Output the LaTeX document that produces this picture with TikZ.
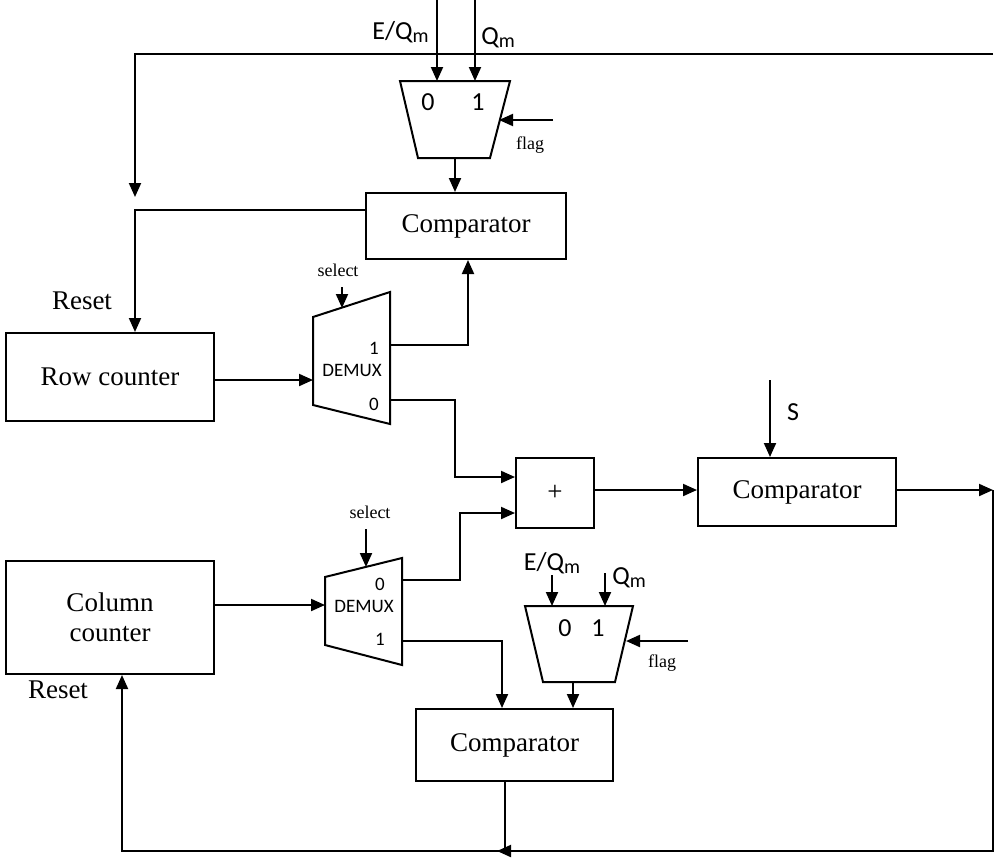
\documentclass[tikz,border=0pt]{standalone}
\usepackage{fontspec}
\setmainfont{Liberation Serif}
\newfontfamily\carlitofont{Carlito}
\usetikzlibrary{arrows.meta}
\begin{document}
\begin{tikzpicture}[x=1pt,y=-1pt,line width=2pt,
  box/.style={draw,minimum width=#1,inner sep=0pt,anchor=north west},
  arr/.style={-{Triangle[length=14pt,width=12pt]}},
  ser/.style={font=\fontsize{27}{30}\selectfont},
  sm/.style={font=\fontsize{18}{20}\selectfont},
  sa/.style={font=\carlitofont\fontsize{26}{28}\selectfont},
  dm/.style={font=\carlitofont\fontsize{19}{20}\selectfont}]
\useasboundingbox (0,0) rectangle (996,863);
% boxes
\node[box=200pt,minimum height=66pt,ser] (c1) at (365,192) {Comparator};
\node[box=208pt,minimum height=88pt,ser] (rc) at (5,332) {Row counter};
\node[box=78pt,minimum height=70pt,ser] (plus) at (515,457) {+};
\node[box=198pt,minimum height=68pt,ser] (c2) at (697,457) {Comparator};
\node[box=208pt,minimum height=113pt,ser,align=center] (cc) at (5,560) {Column\\counter};
\node[box=197pt,minimum height=72pt,ser] (c3) at (415,708) {Comparator};
% top mux
\draw (400,81) -- (510,81) -- (490,158) -- (418,158) -- cycle;
\node[sa] (m1z) at (428,102) {0};
\node[sa] (m1o) at (478,102) {1};
\coordinate (m1a) at (437,0); \coordinate (m1b) at (475,0);
\draw[arr] (m1a) -- (437,81);
\draw[arr] (m1b) -- (475,81);
\node[sa,anchor=east] (l1) at (433,32) {E/Q\raisebox{-3pt}{\fontsize{20}{20}\selectfont m}};
\node[sa,anchor=west] (l2) at (477,38) {Q\raisebox{-3pt}{\fontsize{20}{20}\selectfont m}};
\coordinate (f1) at (553,120);
\draw[arr] (f1) -- (499,120);
\node[sm] (fl1) at (530,145) {flag};
\draw[arr] (455,158) -- (c1.north -| 455,0);
% feedback top
\coordinate (tr) at (993,54); \coordinate (tl) at (135,54);
\draw[arr] (tr) -- (tl) -- (135,197);
\draw[arr] (c1.west |- 0,210) -- (135,210) -- (rc.north -| 135,0);
\node[ser] (rs1) at (82,301) {Reset};
% demux1
\draw (313,317) -- (390,292) -- (390,424) -- (313,405) -- cycle;
\node[dm] (d1) at (352,370) {DEMUX};
\node[dm] (d1o) at (374,348) {1};
\node[dm] (d1z) at (374,404) {0};
\node[sm] (s1) at (338,270) {select};
\draw[arr] (342,287) -- (342,308);
\draw[arr] (rc.east |- 0,380) -- (313,380);
\draw[arr] (390,345) -- (468,345) -- (c1.south -| 468,0);
\draw[arr] (390,400) -- (455,400) -- (455,477) -- (plus.west |- 0,477);
% plus -> comparator2
\draw[arr] (plus.east |- 0,490) -- (c2.west |- 0,490);
\draw[arr] (770,380) -- (c2.north -| 770,0);
\node[sa] (sl) at (793,412) {S};
\draw[arr] (c2.east |- 0,490) -- (993,490);
% demux2
\draw (325,577) -- (402,558) -- (402,665) -- (325,645) -- cycle;
\node[dm] (d2) at (364,606) {DEMUX};
\node[dm] (d2z) at (380,584) {0};
\node[dm] (d2o) at (380,639) {1};
\node[sm] (s2) at (370,512) {select};
\draw[arr] (366,529) -- (366,567);
\draw[arr] (cc.east |- 0,605) -- (325,605);
\draw[arr] (402,580) -- (460,580) -- (460,513) -- (plus.west |- 0,513);
\draw[arr] (402,641) -- (502,641) -- (c3.north -| 502,0);
% mux2
\draw (525,606) -- (633,606) -- (615,682) -- (543,682) -- cycle;
\node[sa] (m2z) at (565,628) {0};
\node[sa] (m2o) at (598,628) {1};
\draw[arr] (552,575) -- (552,606);
\draw[arr] (605,573) -- (605,606);
\node[sa] (l3) at (552,563) {E/Q\raisebox{-3pt}{\fontsize{20}{20}\selectfont m}};
\node[sa,anchor=west] (l4) at (608,578) {Q\raisebox{-3pt}{\fontsize{20}{20}\selectfont m}};
\draw[arr] (688,641) -- (626,641);
\node[sm] (fl2) at (662,663) {flag};
\draw[arr] (573,682) -- (c3.north -| 573,0);
% bottom feedback
\draw (c3.south -| 505,0) -- (505,851);
\draw[arr] (993,490) -- (993,851) -- (497,851);
\draw[arr] (505,851) -- (122,851) -- (cc.south -| 122,0);
\node[ser] (rs2) at (58,690) {Reset};
\end{tikzpicture}
\end{document}
